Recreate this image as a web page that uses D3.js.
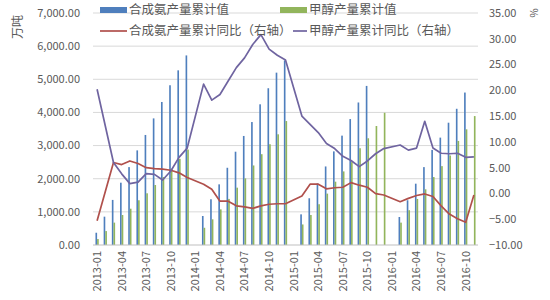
<!DOCTYPE html>
<html>
<head>
<meta charset="utf-8">
<script src="https://cdn.jsdelivr.net/npm/d3@7/dist/d3.min.js"></script>
<style>
  body { margin: 0; background: #fff; }
  text { font-family: "Noto Sans CJK SC", "Noto Sans", sans-serif; fill: #595959; }
</style>
</head>
<body>
<div id="chart"></div>
<script>
// months 2013-01 .. 2016-11
const months = [];
for (let yr = 2013; yr <= 2016; yr++) {
  for (let m = 1; m <= 12; m++) {
    if (yr === 2016 && m > 11) break;
    months.push(yr + "-" + String(m).padStart(2, "0"));
  }
}

// 合成氨产量累计值 (万吨)
const ammoniaCum = [
  370, 855, 1360, 1880, 2350, 2855, 3320, 3820, 4315, 4820, 5270, 5720,
  null, 875, 1380, 1830, 2330, 2815, 3290, 3710, 4245, 4730, 5200, 5570,
  null, 925, 1410, 1860, 2370, 2825, 3300, 3800, 4300, 4800, null, null,
  null, 845, 1350, 1850, 2350, 2870, 3240, 3690, 4110, 4600, null
];
// 甲醇产量累计值 (万吨)
const methanolCum = [
  180, 420, 675, 905, 1095, 1350, 1560, 1810, 2050, 2300, 2600, 2880,
  null, 520, 775, 1075, 1390, 1730, 2010, 2400, 2740, 3040, 3340, 3740,
  null, 620, 905, 1230, 1550, 1910, 2220, 2500, 2920, 3220, 3590, 3990,
  null, 675, 1050, 1390, 1680, 2050, 2380, 2700, 3140, 3490, 3890
];
// 合成氨产量累计同比 (%)
const ammoniaYoY = [
  -5.3, null, 6.0, 5.6, 6.3, 5.8, 5.0, 4.8, 4.7, 4.5, 4.0, 3.1,
  null, 1.8, 0.8, -1.5, -1.5, -2.4, -2.6, -2.9, -2.4, -2.1, -2.0, -2.0,
  null, -0.5, 1.8, 1.8, 0.9, 1.1, 1.2, 2.1, 1.6, 1.2, -0.05, -0.3,
  null, -1.6, -0.95, -0.4, -0.1, -0.6, -2.4, -4.0, -4.9, -5.6, -0.3
];
// 甲醇产量累计同比 (%)
const methanolYoY = [
  20.2, null, 6.0, 3.8, 1.9, 2.2, 3.85, 3.7, 2.6, 4.35, 7.0, 8.8,
  null, 21.2, 18.1, 19.2, 21.8, 24.4, 26.3, 28.9, 30.8, 28.0, 26.8, 25.9,
  null, 15.0, 13.4, 11.8, 9.7, 8.7, 7.2, 6.4, 5.2, 6.3, 7.7, 8.7,
  null, 9.4, 8.4, 8.8, 14.0, 8.8, 7.8, 7.7, 7.8, 7.0, 7.1
];

const leftTicks = [0, 1000, 2000, 3000, 4000, 5000, 6000, 7000];
const rightTicks = [-10, -5, 0, 5, 10, 15, 20, 25, 30, 35];

const W = 550, H = 300;
const plot = { left: 93, right: 478, top: 13, bottom: 245 };

const svg = d3.select("#chart").append("svg")
  .attr("width", W).attr("height", H);

const x = d3.scaleBand().domain(months)
  .range([plot.left, plot.right])
  .paddingInner(0.6).paddingOuter(0.3);
const x1 = d3.scaleBand().domain(["a", "m"]).range([0, x.bandwidth()]);
const yL = d3.scaleLinear().domain([0, 7000]).range([plot.bottom, plot.top]);
const yR = d3.scaleLinear().domain([-10, 35]).range([plot.bottom, plot.top]);

const colors = {
  ammonia: "#4f7fbd",
  methanol: "#92b55c",
  ammoniaLine: "#b0504c",
  methanolLine: "#6f64a0"
};

// gridlines
svg.append("g")
  .selectAll("line").data(leftTicks.slice(1)).join("line")
  .attr("x1", plot.left).attr("x2", plot.right)
  .attr("y1", d => yL(d)).attr("y2", d => yL(d))
  .attr("stroke", "#d9d9d9").attr("stroke-width", 1);

// bars
const rows = months.map((m, i) => ({ m, a: ammoniaCum[i], g: methanolCum[i] }));
const barG = svg.append("g");
barG.selectAll("rect.a").data(rows.filter(d => d.a != null)).join("rect")
  .attr("class", "a")
  .attr("x", d => x(d.m) + x1("a"))
  .attr("width", x1.bandwidth())
  .attr("y", d => yL(d.a))
  .attr("height", d => yL(0) - yL(d.a))
  .attr("fill", colors.ammonia);
barG.selectAll("rect.g").data(rows.filter(d => d.g != null)).join("rect")
  .attr("class", "g")
  .attr("x", d => x(d.m) + x1("m"))
  .attr("width", x1.bandwidth())
  .attr("y", d => yL(d.g))
  .attr("height", d => yL(0) - yL(d.g))
  .attr("fill", colors.methanol);

// baseline
svg.append("line")
  .attr("x1", plot.left).attr("x2", plot.right)
  .attr("y1", yL(0)).attr("y2", yL(0))
  .attr("stroke", "#bfbfbf");

// lines on right axis (missing months skipped)
const cx = m => x(m) + x.bandwidth() / 2;
function drawLine(vals, color) {
  const pts = months.map((m, i) => [m, vals[i]]).filter(p => p[1] != null);
  svg.append("path")
    .datum(pts)
    .attr("d", d3.line().x(p => cx(p[0])).y(p => yR(p[1])))
    .attr("fill", "none")
    .attr("stroke", color)
    .attr("stroke-width", 1.7)
    .attr("stroke-linejoin", "round");
}
drawLine(ammoniaYoY, colors.ammoniaLine);
drawLine(methanolYoY, colors.methanolLine);

// left axis labels
const fmt = d3.format(",.2f");
svg.append("g").selectAll("text").data(leftTicks).join("text")
  .attr("x", 80).attr("y", d => yL(d))
  .attr("dy", "0.35em")
  .attr("text-anchor", "end")
  .attr("font-size", 11)
  .text(d => fmt(d));

// right axis labels
svg.append("g").selectAll("text").data(rightTicks).join("text")
  .attr("x", 489).attr("y", d => yR(d))
  .attr("dy", "0.35em")
  .attr("text-anchor", "start")
  .attr("font-size", 11)
  .text(d => d3.format(".2f")(d));

// x labels, every third month
svg.append("g").selectAll("text")
  .data(months.filter((m, i) => i % 3 === 0)).join("text")
  .attr("transform", d => `translate(${cx(d)},251) rotate(-90)`)
  .attr("dy", "0.35em")
  .attr("text-anchor", "end")
  .attr("font-size", 11)
  .text(d => d);

// unit labels
svg.append("text")
  .attr("transform", "translate(18,27) rotate(-90)")
  .attr("text-anchor", "middle").attr("dy", "0.35em")
  .attr("font-size", 12)
  .text("万吨");
svg.append("text")
  .attr("transform", "translate(534,13) rotate(-90)")
  .attr("text-anchor", "middle").attr("dy", "0.35em")
  .attr("font-size", 10)
  .text("%");

// legend
const legend = [
  { label: "合成氨产量累计值", color: colors.ammonia, kind: "bar", x: 100, w: 27, y: 10 },
  { label: "甲醇产量累计值", color: colors.methanol, kind: "bar", x: 280, w: 27, y: 10 },
  { label: "合成氨产量累计同比（右轴）", color: colors.ammoniaLine, kind: "line", x: 100, w: 27, y: 31 },
  { label: "甲醇产量累计同比（右轴）", color: colors.methanolLine, kind: "line", x: 293, w: 14, y: 31 }
];
const lg = svg.append("g").selectAll("g").data(legend).join("g")
  .attr("transform", d => `translate(${d.x},${d.y})`);
lg.filter(d => d.kind === "bar").append("rect")
  .attr("x", 0).attr("y", -3).attr("width", d => d.w).attr("height", 6)
  .attr("fill", d => d.color);
lg.filter(d => d.kind === "line").append("line")
  .attr("x1", 0).attr("x2", d => d.w).attr("y1", 0).attr("y2", 0)
  .attr("stroke", d => d.color).attr("stroke-width", 1.7);
lg.append("text")
  .attr("x", d => d.w + 2).attr("dy", "0.35em")
  .attr("font-size", 12.5)
  .text(d => d.label);
</script>
</body>
</html>
